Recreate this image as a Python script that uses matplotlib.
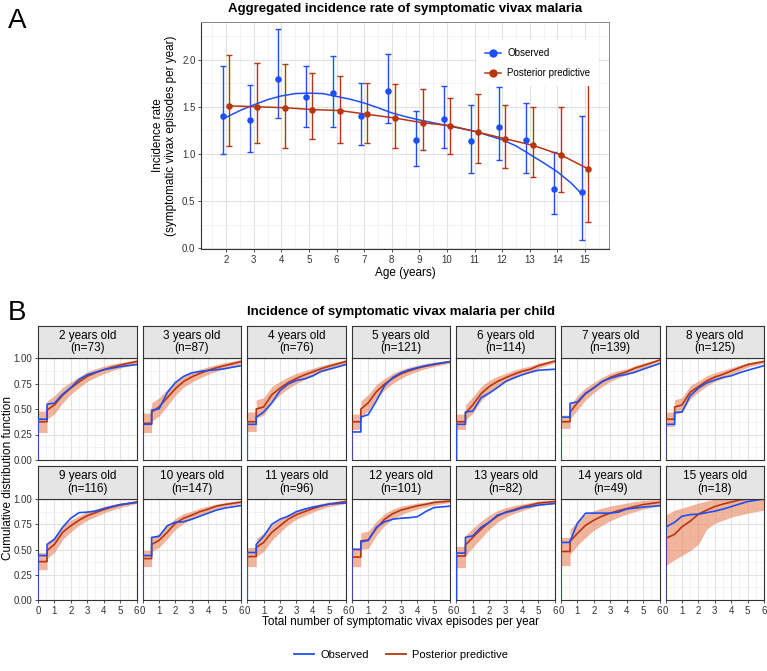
import matplotlib
matplotlib.use("Agg")
import matplotlib.pyplot as plt
from matplotlib.lines import Line2D
from matplotlib.ticker import MultipleLocator

plt.rcParams['font.family'] = ['Liberation Sans', 'DejaVu Sans']

BLUE = '#1f4ff2'
RED = '#b8360f'
BAND = '#e8845c'
GRID = '#e2e2e2'
DARK = '#333333'

# ---- panel A data ----
ages = list(range(2, 16))
obs_rate = [1.40, 1.36, 1.80, 1.60, 1.65, 1.40, 1.67, 1.15, 1.37, 1.14, 1.28, 1.15, 0.63, 0.60]
obs_lo = [1.00, 1.02, 1.38, 1.29, 1.29, 1.09, 1.33, 0.87, 1.06, 0.80, 0.93, 0.80, 0.36, 0.09]
obs_hi = [1.93, 1.73, 2.33, 1.93, 2.04, 1.75, 2.06, 1.46, 1.72, 1.52, 1.71, 1.54, 1.02, 1.40]
pp_rate = [1.51, 1.50, 1.49, 1.47, 1.46, 1.42, 1.38, 1.33, 1.30, 1.23, 1.16, 1.09, 0.99, 0.84]
pp_lo = [1.08, 1.12, 1.06, 1.16, 1.12, 1.12, 1.06, 1.04, 1.00, 0.90, 0.85, 0.75, 0.59, 0.28]
pp_hi = [2.05, 1.96, 1.95, 1.86, 1.83, 1.75, 1.74, 1.69, 1.59, 1.64, 1.52, 1.50, 1.50, 1.95]

# loess curve through the observed rates
smooth_age = [1.88, 2.5, 3, 3.5, 4, 4.5, 5, 5.5, 6, 6.5, 7, 7.5, 8, 8.5, 9, 9.5,
              10, 10.5, 11, 11.5, 12, 12.5, 13, 13.5, 14, 14.5, 14.88]
smooth_rate = [1.37, 1.46, 1.52, 1.575, 1.615, 1.64, 1.645, 1.64, 1.61, 1.58, 1.54,
               1.49, 1.435, 1.395, 1.36, 1.33, 1.30, 1.27, 1.24, 1.195, 1.15, 1.085,
               0.995, 0.905, 0.81, 0.69, 0.575]

# ---- panel B data ----
n_children = [73, 87, 76, 121, 114, 139, 125, 116, 147, 96, 101, 82, 49, 18]
episodes = [0, 0.55, 0.55, 1, 1.5, 2, 2.5, 3, 3.5, 4, 4.5, 5, 6]

cdf_obs = [
    [0.40, 0.40, 0.547, 0.557, 0.645, 0.71, 0.79, 0.835, 0.86, 0.885, 0.90, 0.915, 0.935],
    [0.35, 0.35, 0.49, 0.50, 0.66, 0.76, 0.82, 0.855, 0.868, 0.878, 0.885, 0.895, 0.925],
    [0.35, 0.35, 0.42, 0.47, 0.56, 0.68, 0.745, 0.78, 0.795, 0.825, 0.87, 0.89, 0.935],
    [0.275, 0.275, 0.42, 0.445, 0.58, 0.73, 0.81, 0.855, 0.885, 0.905, 0.925, 0.94, 0.965],
    [0.35, 0.35, 0.47, 0.48, 0.61, 0.655, 0.71, 0.77, 0.805, 0.835, 0.86, 0.88, 0.89],
    [0.42, 0.42, 0.555, 0.57, 0.655, 0.705, 0.77, 0.80, 0.825, 0.84, 0.86, 0.89, 0.945],
    [0.35, 0.35, 0.465, 0.47, 0.63, 0.705, 0.755, 0.785, 0.81, 0.825, 0.855, 0.88, 0.925],
    [0.44, 0.44, 0.55, 0.60, 0.72, 0.81, 0.865, 0.87, 0.88, 0.905, 0.925, 0.945, 0.965],
    [0.44, 0.44, 0.62, 0.63, 0.735, 0.77, 0.775, 0.80, 0.83, 0.86, 0.89, 0.91, 0.935],
    [0.47, 0.47, 0.55, 0.63, 0.75, 0.80, 0.83, 0.875, 0.90, 0.92, 0.935, 0.95, 0.96],
    [0.50, 0.50, 0.575, 0.59, 0.72, 0.775, 0.80, 0.81, 0.815, 0.825, 0.875, 0.915, 0.93],
    [0.465, 0.465, 0.62, 0.635, 0.72, 0.77, 0.84, 0.866, 0.885, 0.912, 0.925, 0.94, 0.955],
    [0.57, 0.57, 0.58, 0.76, 0.86, 0.86, 0.86, 0.86, 0.87, 0.90, 0.91, 0.92, 0.933],
    [0.72, 0.77, 0.77, 0.83, 0.845, 0.85, 0.865, 0.88, 0.90, 0.925, 0.95, 0.975, 1.0],
]
cdf_pred = [
    [0.375, 0.375, 0.49, 0.54, 0.635, 0.705, 0.765, 0.82, 0.855, 0.885, 0.91, 0.93, 0.965],
    [0.36, 0.36, 0.47, 0.52, 0.61, 0.70, 0.77, 0.815, 0.85, 0.88, 0.905, 0.925, 0.965],
    [0.375, 0.375, 0.50, 0.52, 0.64, 0.705, 0.76, 0.80, 0.835, 0.865, 0.895, 0.92, 0.965],
    [0.375, 0.375, 0.50, 0.56, 0.67, 0.745, 0.80, 0.845, 0.875, 0.90, 0.92, 0.935, 0.965],
    [0.375, 0.375, 0.46, 0.54, 0.65, 0.72, 0.77, 0.807, 0.84, 0.87, 0.89, 0.925, 0.97],
    [0.375, 0.375, 0.47, 0.56, 0.65, 0.71, 0.765, 0.81, 0.84, 0.865, 0.90, 0.925, 0.98],
    [0.40, 0.40, 0.52, 0.54, 0.665, 0.72, 0.775, 0.813, 0.84, 0.873, 0.905, 0.935, 0.967],
    [0.38, 0.38, 0.49, 0.55, 0.67, 0.735, 0.79, 0.835, 0.865, 0.895, 0.92, 0.94, 0.97],
    [0.41, 0.41, 0.55, 0.59, 0.67, 0.76, 0.81, 0.84, 0.875, 0.90, 0.93, 0.945, 0.97],
    [0.43, 0.43, 0.52, 0.57, 0.67, 0.735, 0.80, 0.845, 0.875, 0.905, 0.93, 0.95, 0.975],
    [0.425, 0.425, 0.585, 0.595, 0.71, 0.80, 0.855, 0.89, 0.912, 0.933, 0.947, 0.965, 0.98],
    [0.435, 0.435, 0.545, 0.62, 0.70, 0.77, 0.83, 0.87, 0.895, 0.92, 0.94, 0.96, 0.975],
    [0.48, 0.48, 0.58, 0.66, 0.74, 0.79, 0.83, 0.86, 0.885, 0.905, 0.925, 0.945, 0.967],
    [0.61, 0.65, 0.65, 0.725, 0.78, 0.85, 0.89, 0.925, 0.95, 0.97, 0.99, 1.0, 1.0],
]
cdf_lo = [
    [0.27, 0.27, 0.40, 0.45, 0.56, 0.645, 0.71, 0.77, 0.81, 0.845, 0.875, 0.90, 0.945],
    [0.27, 0.27, 0.38, 0.43, 0.53, 0.635, 0.715, 0.765, 0.805, 0.84, 0.87, 0.895, 0.945],
    [0.28, 0.28, 0.41, 0.44, 0.56, 0.64, 0.70, 0.75, 0.79, 0.825, 0.86, 0.89, 0.945],
    [0.30, 0.30, 0.42, 0.48, 0.60, 0.69, 0.75, 0.80, 0.84, 0.87, 0.895, 0.915, 0.95],
    [0.30, 0.30, 0.39, 0.46, 0.58, 0.66, 0.72, 0.765, 0.80, 0.835, 0.86, 0.90, 0.955],
    [0.31, 0.31, 0.40, 0.49, 0.59, 0.66, 0.72, 0.77, 0.805, 0.835, 0.87, 0.90, 0.965],
    [0.33, 0.33, 0.45, 0.47, 0.60, 0.665, 0.725, 0.77, 0.80, 0.84, 0.875, 0.91, 0.95],
    [0.30, 0.30, 0.41, 0.47, 0.60, 0.675, 0.74, 0.79, 0.825, 0.86, 0.89, 0.915, 0.955],
    [0.33, 0.33, 0.48, 0.52, 0.605, 0.70, 0.76, 0.80, 0.84, 0.87, 0.905, 0.925, 0.955],
    [0.33, 0.33, 0.43, 0.48, 0.59, 0.67, 0.745, 0.80, 0.835, 0.87, 0.90, 0.925, 0.955],
    [0.33, 0.33, 0.50, 0.51, 0.64, 0.74, 0.80, 0.845, 0.875, 0.90, 0.92, 0.94, 0.965],
    [0.32, 0.32, 0.44, 0.52, 0.61, 0.70, 0.77, 0.82, 0.855, 0.885, 0.91, 0.935, 0.955],
    [0.34, 0.34, 0.45, 0.54, 0.62, 0.69, 0.74, 0.785, 0.82, 0.85, 0.875, 0.90, 0.93],
    [0.34, 0.40, 0.40, 0.44, 0.49, 0.55, 0.70, 0.76, 0.79, 0.82, 0.84, 0.86, 0.89],
]
cdf_hi = [
    [0.48, 0.48, 0.58, 0.63, 0.71, 0.765, 0.815, 0.865, 0.895, 0.92, 0.94, 0.955, 0.985],
    [0.46, 0.46, 0.56, 0.61, 0.69, 0.765, 0.825, 0.86, 0.89, 0.915, 0.935, 0.955, 0.985],
    [0.47, 0.47, 0.59, 0.61, 0.72, 0.77, 0.815, 0.85, 0.875, 0.90, 0.925, 0.945, 0.985],
    [0.45, 0.45, 0.58, 0.64, 0.74, 0.80, 0.85, 0.885, 0.91, 0.93, 0.945, 0.96, 0.98],
    [0.45, 0.45, 0.54, 0.62, 0.72, 0.78, 0.82, 0.85, 0.88, 0.905, 0.92, 0.95, 0.985],
    [0.44, 0.44, 0.54, 0.63, 0.71, 0.76, 0.81, 0.85, 0.875, 0.895, 0.925, 0.95, 0.99],
    [0.47, 0.47, 0.59, 0.61, 0.73, 0.775, 0.825, 0.855, 0.88, 0.905, 0.93, 0.955, 0.98],
    [0.47, 0.47, 0.57, 0.63, 0.74, 0.79, 0.835, 0.875, 0.90, 0.925, 0.945, 0.96, 0.985],
    [0.49, 0.49, 0.62, 0.66, 0.735, 0.81, 0.855, 0.88, 0.91, 0.93, 0.95, 0.965, 0.985],
    [0.52, 0.52, 0.61, 0.66, 0.745, 0.80, 0.85, 0.885, 0.91, 0.935, 0.955, 0.97, 0.99],
    [0.52, 0.52, 0.67, 0.68, 0.78, 0.855, 0.90, 0.93, 0.945, 0.96, 0.97, 0.985, 0.995],
    [0.53, 0.53, 0.64, 0.71, 0.78, 0.84, 0.885, 0.915, 0.935, 0.95, 0.965, 0.98, 0.99],
    [0.62, 0.62, 0.70, 0.78, 0.85, 0.885, 0.91, 0.93, 0.945, 0.96, 0.975, 0.985, 0.995],
    [0.84, 0.89, 0.89, 0.91, 0.935, 0.96, 0.98, 1.0, 1.0, 1.0, 1.0, 1.0, 1.0],
]

W, H = 767, 671
fig = plt.figure(figsize=(W / 100, H / 100), dpi=100)


def px_rect(left, top, width, height):
    return [left / W, 1 - (top + height) / H, width / W, height / H]


def style_grid(ax):
    ax.grid(which='major', color=GRID, lw=0.8)
    ax.grid(which='minor', color='#eeeeee', lw=0.5)
    ax.set_axisbelow(True)
    ax.tick_params(which='major', length=2.5, width=0.6, color=DARK, labelsize=7,
                   labelcolor='#333333', pad=1.5)
    ax.tick_params(which='minor', length=0)


# ---------------- Panel A ----------------
axA = fig.add_axes(px_rect(201, 22, 408, 227))
off = 0.12
obs_x = [a - off for a in ages]
pp_x = [a + off for a in ages]

axA.errorbar(obs_x, obs_rate,
             yerr=[[r - l for r, l in zip(obs_rate, obs_lo)], [h - r for r, h in zip(obs_rate, obs_hi)]],
             fmt='none', ecolor=BLUE, elinewidth=1.0, capsize=2.2, capthick=1.0, zorder=3)
axA.errorbar(pp_x, pp_rate,
             yerr=[[r - l for r, l in zip(pp_rate, pp_lo)], [h - r for r, h in zip(pp_rate, pp_hi)]],
             fmt='none', ecolor=RED, elinewidth=1.0, capsize=2.2, capthick=1.0, zorder=3)
axA.plot(smooth_age, smooth_rate, color=BLUE, lw=1.1, zorder=4)
axA.plot(pp_x, pp_rate, color=RED, lw=1.1, zorder=4)
axA.scatter(obs_x, obs_rate, s=22, color=BLUE, zorder=5, linewidths=0)
axA.scatter(pp_x, pp_rate, s=22, color=RED, zorder=5, linewidths=0)

axA.set_xlim(1.09, 15.87)
axA.set_ylim(-0.01, 2.40)
axA.set_xticks(ages)
axA.xaxis.set_minor_locator(MultipleLocator(0.5))
axA.set_yticks([0, 0.5, 1.0, 1.5, 2.0])
axA.set_yticklabels(['0.0', '0.5', '1.0', '1.5', '2.0'])
axA.yaxis.set_minor_locator(MultipleLocator(0.25))
style_grid(axA)
for side in ['left', 'bottom']:
    axA.spines[side].set_color(DARK)
    axA.spines[side].set_linewidth(0.8)
for side in ['top', 'right']:
    axA.spines[side].set_color('#888888')
    axA.spines[side].set_linewidth(0.7)
axA.set_xlabel('Age (years)', fontsize=8.5, labelpad=2)
axA.set_ylabel('Incidence rate\n(symptomatic vivax episodes per year)', fontsize=8.5, linespacing=1.1)
axA.yaxis.set_label_coords(-0.058, 0.5)

legA = [Line2D([0], [0], color=BLUE, lw=1.1, marker='o', markersize=5, label='Observed'),
        Line2D([0], [0], color=RED, lw=1.1, marker='o', markersize=5, label='Posterior predictive')]
lg = axA.legend(handles=legA, loc='upper left', bbox_to_anchor=(0.665, 0.94), fontsize=7,
                frameon=True, facecolor='white', edgecolor='none', framealpha=1,
                handlelength=1.6, labelspacing=1.0, borderpad=0.8, handletextpad=0.7)
lg.set_zorder(10)

fig.text(405 / W, 1 - 9 / H, 'Aggregated incidence rate of symptomatic vivax malaria',
         ha='center', va='center', fontsize=9.5, fontweight='bold')
fig.text(8 / W, 1 - 21 / H, 'A', ha='left', va='center', fontsize=20)

# ---------------- Panel B ----------------
fig.text(401 / W, 1 - 312 / H, 'Incidence of symptomatic vivax malaria per child',
         ha='center', va='center', fontsize=9.5, fontweight='bold')
fig.text(8 / W, 1 - 313 / H, 'B', ha='left', va='center', fontsize=20)

x0, dx, pw = 38, 104.6, 98.5
rows = [(326, 358, 460), (466, 499, 600)]
for i, age in enumerate(ages):
    r, c = divmod(i, 7)
    s_top, p_top, p_bot = rows[r]
    left = x0 + c * dx
    ax = fig.add_axes(px_rect(left, p_top, pw, p_bot - p_top))
    ax.fill_between(episodes, cdf_lo[i], cdf_hi[i], color=BAND, alpha=0.6, lw=0, zorder=2)
    ax.plot([0] + episodes, [0] + cdf_pred[i], color=RED, lw=1.2, zorder=3)
    ax.plot([0] + episodes, [0] + cdf_obs[i], color=BLUE, lw=1.2, zorder=4)
    ax.set_xlim(0, 6)
    ax.set_ylim(0, 1)
    ax.set_xticks(range(7))
    ax.xaxis.set_minor_locator(MultipleLocator(0.5))
    ax.set_yticks([0, 0.25, 0.5, 0.75, 1.0])
    ax.yaxis.set_minor_locator(MultipleLocator(0.125))
    style_grid(ax)
    if c == 0:
        ax.set_yticklabels(['0.00', '0.25', '0.50', '0.75', '1.00'])
    else:
        ax.tick_params(axis='y', which='major', length=0, labelleft=False)
    if r == 0:
        ax.tick_params(axis='x', which='major', length=0, labelbottom=False)
    for sp in ax.spines.values():
        sp.set_color(DARK)
        sp.set_linewidth(0.8)

    sax = fig.add_axes(px_rect(left, s_top, pw, p_top - s_top))
    sax.set_facecolor('#e5e5e5')
    sax.set_xticks([])
    sax.set_yticks([])
    for sp in sax.spines.values():
        sp.set_color(DARK)
        sp.set_linewidth(0.8)
    sax.text(0.5, 0.5, f'{age} years old\n(n={n_children[i]})', ha='center', va='center',
             fontsize=8.5, linespacing=1.05, transform=sax.transAxes)

fig.text(8 / W, 1 - 478 / H, 'Cumulative distribution function', rotation=90,
         ha='center', va='center', fontsize=8.5)
fig.text(401 / W, 1 - 622 / H, 'Total number of symptomatic vivax episodes per year',
         ha='center', va='center', fontsize=8.5)

legB = [Line2D([0], [0], color=BLUE, lw=1.3, label='Observed'),
        Line2D([0], [0], color=RED, lw=1.3, label='Posterior predictive')]
fig.legend(handles=legB, loc='center', bbox_to_anchor=(401 / W, 1 - 655 / H), ncol=2,
           frameon=False, fontsize=8, handlelength=1.8, columnspacing=1.5, handletextpad=0.6)

fig.savefig('out.png', dpi=100)
